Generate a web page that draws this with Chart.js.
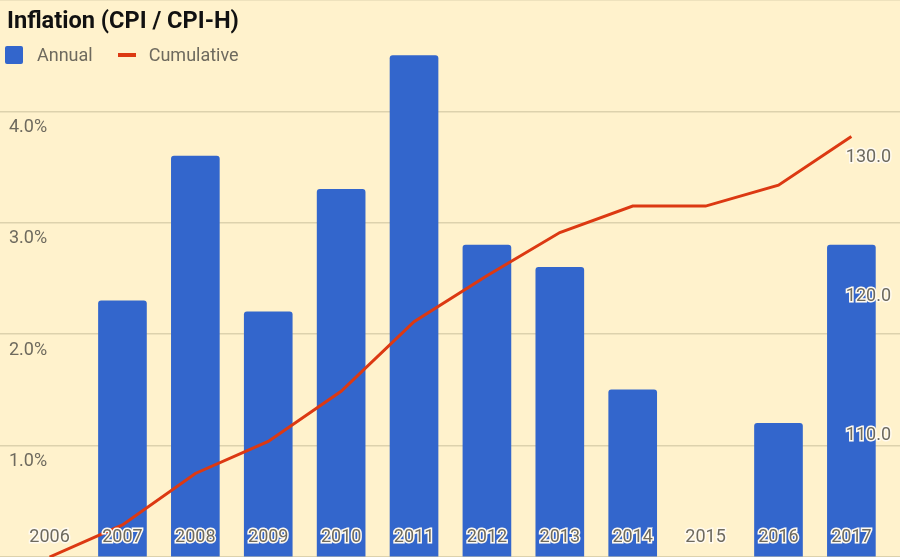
<!DOCTYPE html>
<html>
<head>
<meta charset="utf-8">
<script src="https://cdn.jsdelivr.net/npm/chart.js@4"></script>
<style>
    html, body { margin: 0; padding: 0; background: #fff2cc; }
    #wrap { position: relative; width: 900px; height: 557px; overflow: hidden; }
    #title {
        position: absolute; left: 7px; top: 9px;
        font: bold 23.6px Roboto, sans-serif; line-height: 1; color: #111;
    }
    #legend {
        position: absolute; left: 5px; top: 45px; height: 19px;
        display: flex; align-items: center;
        font: 18px Roboto, sans-serif; color: #6e6a5e;
    }
    .item { display: flex; align-items: center; margin-right: 25px; }
    .box  { width: 18px; height: 18px; border-radius: 2px; margin-right: 14px; }
    .dash { width: 18px; height: 4px; margin-right: 13px; }
</style>
</head>
<body>
<div id="wrap">
    <canvas id="chart"></canvas>
    <div id="title">Inflation (CPI / CPI-H)</div>
    <div id="legend"></div>
</div>
<script>
const YEARS      = [2006, 2007, 2008, 2009, 2010, 2011, 2012, 2013, 2014, 2015, 2016, 2017];
const ANNUAL     = [null, 2.3, 3.6, 2.2, 3.3, 4.5, 2.8, 2.6, 1.5, null, 1.2, 2.8];
const CUMULATIVE = [100, 102.3, 106.0, 108.3, 111.9, 116.9, 120.2, 123.3, 125.2, 125.2, 126.7, 130.2];
const PCT_TICKS  = [0, 1, 2, 3, 4, 5];
const IDX_TICKS  = [100, 110, 120, 130, 140];

const TEXT = '#6e6a5e';
const HALO = '#fffaf0';
const GRID = '#ddd2ad';
const tickFont = { family: 'Roboto', size: 18 };

const fixTicks = vals => scale => { scale.ticks = vals.map(v => ({ value: v })); };

// axes take no room and add no edge padding: the plot fills the whole canvas
// and every label sits inside it, like the original
function noRoom(scale) {
    if (scale.isHorizontal()) scale.height = 0; else scale.width = 0;
    scale.paddingTop = scale.paddingBottom = scale.paddingLeft = scale.paddingRight = 0;
}

const chart = new Chart(document.getElementById('chart'), {
    type: 'bar',
    data: {
        labels: YEARS,
        datasets: [
            {
                type: 'line',
                label: 'Cumulative',
                data: CUMULATIVE,
                yAxisID: 'y2',
                borderColor: '#dc3912',
                backgroundColor: '#dc3912',
                borderWidth: 3,
                pointRadius: 0,
                tension: 0,
                order: 0,
            },
            {
                label: 'Annual',
                data: ANNUAL,
                yAxisID: 'y',
                backgroundColor: '#3366cc',
                barThickness: 48,
                borderRadius: 3,
                order: 1,
            },
        ],
    },
    options: {
        responsive: true,
        maintainAspectRatio: false,
        animation: false,
        layout: { padding: 0, autoPadding: false },
        plugins: { legend: { display: false }, tooltip: { enabled: false } },
        scales: {
            x: {
                type: 'linear',
                offset: false,
                min: 2005.32,
                max: 2017.667,
                afterBuildTicks: fixTicks(YEARS),
                afterFit: noRoom,
                grid: { display: false, drawTicks: false },
                border: { display: false },
                ticks: {
                    z: 1,
                    mirror: true,   // pulls labels up into the plot, and skips the clip to the zero-height box
                    padding: 9,
                    autoSkip: false,
                    maxRotation: 0,
                    color: TEXT,
                    font: tickFont,
                    textStrokeColor: HALO,
                    textStrokeWidth: 3,
                    callback: v => String(v),
                },
            },
            y: {
                position: 'left',
                min: 0,
                max: 5,
                afterBuildTicks: fixTicks(PCT_TICKS),
                afterFit: noRoom,
                grid: { color: GRID, lineWidth: 1.5, drawTicks: false },
                border: { display: false },
                ticks: {
                    z: 1,
                    mirror: true,
                    padding: 9,
                    labelOffset: 16,
                    color: TEXT,
                    font: tickFont,
                    callback: v => (v > 0 && v < 5) ? v.toFixed(1) + '%' : '',
                },
            },
            y2: {
                position: 'right',
                min: 100,
                max: 140,
                afterBuildTicks: fixTicks(IDX_TICKS),
                afterFit: noRoom,
                grid: { display: false, drawTicks: false },
                border: { display: false },
                ticks: {
                    z: 1,
                    mirror: true,
                    padding: -9,
                    labelOffset: 18,
                    color: TEXT,
                    font: tickFont,
                    textStrokeColor: HALO,
                    textStrokeWidth: 3,
                    callback: v => (v > 100 && v < 140) ? v.toFixed(1) : '',
                },
            },
        },
    },
});

// legend built from the datasets, Annual first
document.getElementById('legend').innerHTML = [...chart.data.datasets]
    .sort((a, b) => b.order - a.order)
    .map(ds => `<div class="item"><span class="${ds.type === 'line' ? 'dash' : 'box'}" style="background:${ds.backgroundColor}"></span>${ds.label}</div>`)
    .join('');
</script>
</body>
</html>
